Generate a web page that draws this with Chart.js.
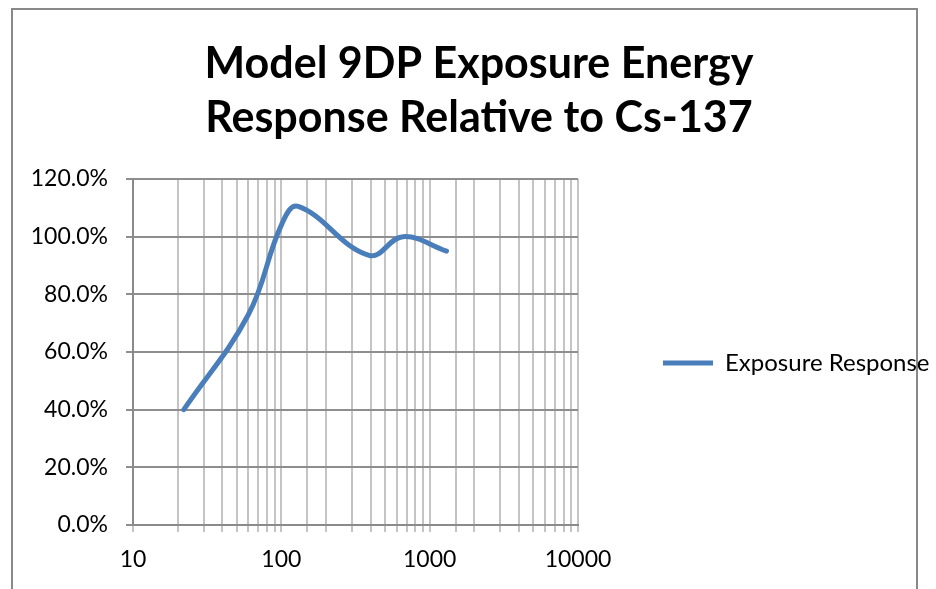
<!DOCTYPE html>
<html>
<head>
<meta charset="utf-8">
<script src="https://cdn.jsdelivr.net/npm/chart.js@4.4.1/dist/chart.umd.min.js"></script>
<style>
  html, body { margin: 0; padding: 0; background: #fff; }
  canvas { display: block; }
</style>
</head>
<body>
<canvas id="responseChart" width="936" height="589"></canvas>
<script>
const titleLines = ['Model 9DP Exposure Energy', 'Response Relative to Cs-137'];
const seriesName = 'Exposure Response';
const energies = [22, 60, 100, 130, 390, 662, 1300];   // keV
const responses = [0.40, 0.73, 1.04, 1.105, 0.935, 1.00, 0.95];
const xTicks = [10, 100, 1000, 10000];
const yTicks = [0, 0.2, 0.4, 0.6, 0.8, 1.0, 1.2];

const FONT = 'Lato';
const LABEL_SIZE = 23;
const LEGEND_SIZE = 24;
const LEGEND_GAP = 85;    // plot edge to legend line
const LEGEND_BOX = 50;
const LEGEND_SPACE = 358; // room right of the plot

// legend width follows its text, the rest is given back as padding
const probe = document.createElement('canvas').getContext('2d');
probe.font = LEGEND_SIZE + 'px ' + FONT;
const legendNatural = LEGEND_GAP + LEGEND_BOX + LEGEND_SIZE / 2 + probe.measureText(seriesName).width + 10;
const padRight = Math.max(0, LEGEND_SPACE - legendNatural);
const padLeft = 22 + padRight;

const frame = {
  id: 'frame',
  beforeDraw(chart) {
    const ctx = chart.ctx;
    ctx.save();
    ctx.strokeStyle = '#898989';
    ctx.lineWidth = 2;
    ctx.strokeRect(12, 9, 905, 600);
    ctx.restore();
  }
};

const ctx = document.getElementById('responseChart').getContext('2d');
new Chart(ctx, {
  type: 'line',
  data: {
    datasets: [{
      label: seriesName,
      data: energies.map((e, i) => ({ x: e, y: responses[i] })),
      borderColor: '#4A7EBB',
      backgroundColor: '#4A7EBB',
      borderWidth: 5,
      borderCapStyle: 'round',
      borderJoinStyle: 'round',
      pointRadius: 0,
      pointHoverRadius: 0,
      pointBorderWidth: 5,
      tension: 0.4,
      fill: false
    }]
  },
  options: {
    responsive: false,
    animation: false,
    layout: { padding: { left: padLeft, right: padRight, top: 0, bottom: 0 } },
    scales: {
      x: {
        type: 'logarithmic',
        min: 10,
        max: 10000,
        afterFit(scale) { scale.height = 64; },
        grid: { color: '#C4C4C4', lineWidth: 2, tickLength: 7 },
        border: { color: '#8A8A8A', width: 2 },
        ticks: {
          autoSkip: false,
          maxRotation: 0,
          padding: 14,
          color: '#000',
          font: { family: FONT, size: LABEL_SIZE },
          callback: v => xTicks.some(t => Math.abs(t - v) < 1e-6) ? String(v) : ''
        }
      },
      y: {
        min: 0,
        max: 1.2,
        afterFit(scale) { scale.width = 133 - padLeft; },
        afterBuildTicks(scale) { scale.ticks = yTicks.map(v => ({ value: v })); },
        grid: { color: '#8E8E8E', lineWidth: 2, tickLength: 7 },
        border: { color: '#8A8A8A', width: 2 },
        ticks: {
          padding: 18,
          color: '#000',
          font: { family: FONT, size: LABEL_SIZE },
          callback: v => (v * 100).toFixed(1) + '%'
        }
      }
    },
    plugins: {
      title: {
        display: true,
        text: titleLines,
        color: '#000',
        font: { family: FONT, size: 43, weight: 'bold', lineHeight: '54px' },
        padding: { top: 37, bottom: 34 }
      },
      legend: {
        position: 'right',
        fullSize: false,
        maxWidth: LEGEND_SPACE,
        title: { display: true, text: '', padding: 0, font: { size: 10, lineHeight: '22px' } },
        labels: {
          usePointStyle: true,
          pointStyle: 'line',
          pointStyleWidth: LEGEND_BOX,
          padding: LEGEND_GAP,
          color: '#000',
          font: { family: FONT, size: LEGEND_SIZE }
        }
      },
      tooltip: { enabled: false }
    }
  },
  plugins: [frame]
});
</script>
</body>
</html>
